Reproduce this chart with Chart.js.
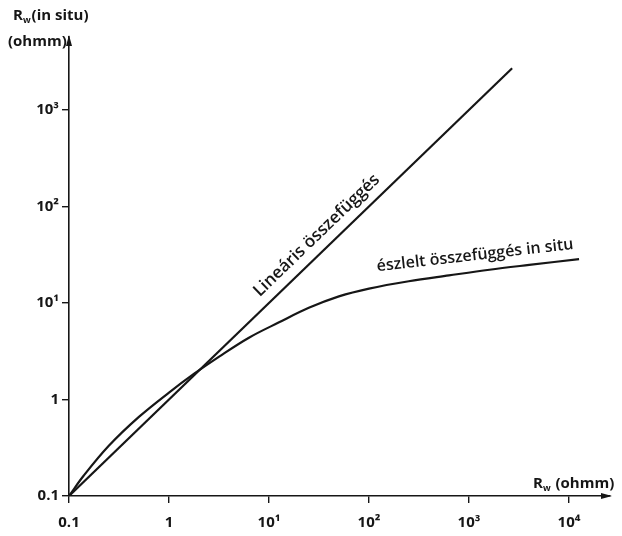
<!DOCTYPE html>
<html>
<head>
<meta charset="utf-8">
<script src="https://cdn.jsdelivr.net/npm/chart.js@4.4.1/dist/chart.umd.min.js"></script>
<style>
  html, body { margin: 0; padding: 0; background: #fff; }
  #wrap { width: 622px; height: 536px; }
</style>
</head>
<body>
<div id="wrap"><canvas id="chart"></canvas></div>
<script>
// values (ohmm, log-log)
const xTicks = [0.1, 1, 10, 100, 1000, 10000];
const yTicks = [0.1, 1, 10, 100, 1000];
const tickText = { 0.1: '0.1', 1: '1', 10: '10¹', 100: '10²', 1000: '10³', 10000: '10⁴' };

const linearX = [0.1, 2700];
const linearY = [0.1, 2700];

const insituX = [0.1, 0.14, 0.25, 0.5, 1, 1.8, 3.2, 6.3, 12.6, 25, 50, 100, 250, 630, 1600, 4000, 12600];
const insituY = [0.1, 0.162, 0.331, 0.66, 1.18, 1.86, 2.8, 4.37, 6.3, 8.9, 11.7, 14.1, 16.8, 19.3, 22.1, 24.8, 28.5];

const ink = '#161616';
const font = '"Open Sans", "DejaVu Sans", sans-serif';

const toPoints = (xs, ys) => xs.map((x, i) => ({ x: x, y: ys[i] }));

const decor = {
  id: 'decor',
  afterDraw(chart) {
    const ctx = chart.ctx;
    const a = chart.chartArea;
    const xs = chart.scales.x, ys = chart.scales.y;
    ctx.save();
    ctx.fillStyle = ink;

    // arrowheads at the axis ends
    ctx.beginPath();
    ctx.moveTo(a.right + 2, a.bottom);
    ctx.lineTo(a.right - 9, a.bottom - 3);
    ctx.lineTo(a.right - 9, a.bottom + 3);
    ctx.closePath();
    ctx.fill();
    ctx.beginPath();
    ctx.moveTo(a.left, a.top - 2);
    ctx.lineTo(a.left - 3, a.top + 9);
    ctx.lineTo(a.left + 3, a.top + 9);
    ctx.closePath();
    ctx.fill();

    // axis titles
    const rw = (txt, x, y, size) => {
      ctx.font = 'bold ' + size + 'px ' + font;
      ctx.textBaseline = 'alphabetic';
      ctx.textAlign = 'left';
      ctx.fillText('R', x, y);
      let w = ctx.measureText('R').width;
      ctx.font = 'bold ' + Math.round(size * 0.6) + 'px ' + font;
      ctx.fillText('w', x + w, y + 3);
      w += ctx.measureText('w').width + 1;
      ctx.font = 'bold ' + size + 'px ' + font;
      ctx.fillText(txt, x + w, y);
    };
    rw('(in situ)', 13, 20, 15);
    ctx.font = 'bold 15px ' + font;
    ctx.fillText('(ohmm)', 8, 46);
    rw(' (ohmm)', 533, 488, 15);

    // curve labels, placed in data space and turned to the line's direction
    const ang = Math.atan2(ys.getPixelForValue(1000) - ys.getPixelForValue(1),
                           xs.getPixelForValue(1000) - xs.getPixelForValue(1));
    ctx.font = '600 17px ' + font;
    ctx.textAlign = 'center';
    ctx.textBaseline = 'middle';
    ctx.save();
    ctx.translate(xs.getPixelForValue(30), ys.getPixelForValue(50));
    ctx.rotate(ang);
    ctx.fillText('Lineáris összefüggés', 0, 0);
    ctx.restore();

    ctx.font = '600 16px ' + font;
    ctx.save();
    ctx.translate(xs.getPixelForValue(1150), ys.getPixelForValue(31));
    ctx.rotate(-6.5 * Math.PI / 180);
    ctx.fillText('észlelt összefüggés in situ', 0, 0);
    ctx.restore();

    ctx.restore();
  }
};

const axisCommon = {
  type: 'logarithmic',
  border: { display: true, color: ink, width: 1.6 },
  grid: { drawOnChartArea: false, drawTicks: true, tickLength: 7, color: ink, lineWidth: 1.4 },
  ticks: {
    color: ink,
    font: { family: font, size: 15, weight: 'bold' },
    autoSkip: false,
    maxRotation: 0,
    callback: (v) => tickText[v] || ''
  }
};

const config = {
  type: 'scatter',
  data: {
    datasets: [
      {
        label: 'Lineáris összefüggés',
        data: toPoints(linearX, linearY),
        showLine: true,
        borderColor: ink,
        borderWidth: 2.2,
        pointRadius: 0
      },
      {
        label: 'észlelt összefüggés in situ',
        data: toPoints(insituX, insituY),
        showLine: true,
        borderColor: ink,
        borderWidth: 2.2,
        pointRadius: 0,
        tension: 0.35
      }
    ]
  },
  options: {
    responsive: true,
    maintainAspectRatio: false,
    animation: false,
    layout: { padding: { top: 37, right: 12, left: 0, bottom: 0 } },
    plugins: { legend: { display: false }, tooltip: { enabled: false } },
    scales: {
      x: Object.assign({}, axisCommon, {
        min: 0.1,
        max: 25700,
        ticks: Object.assign({}, axisCommon.ticks, { padding: 11 }),
        afterBuildTicks: (s) => { s.ticks = xTicks.map(v => ({ value: v })); },
        afterFit: (s) => { s.height = 40; }
      }),
      y: Object.assign({}, axisCommon, {
        min: 0.1,
        max: 5700,
        ticks: Object.assign({}, axisCommon.ticks, { padding: 3 }),
        afterBuildTicks: (s) => { s.ticks = yTicks.map(v => ({ value: v })); },
        afterFit: (s) => { s.width = 69; }
      })
    }
  },
  plugins: [decor]
};

var chart = new Chart(document.getElementById('chart').getContext('2d'), config);
</script>
</body>
</html>
